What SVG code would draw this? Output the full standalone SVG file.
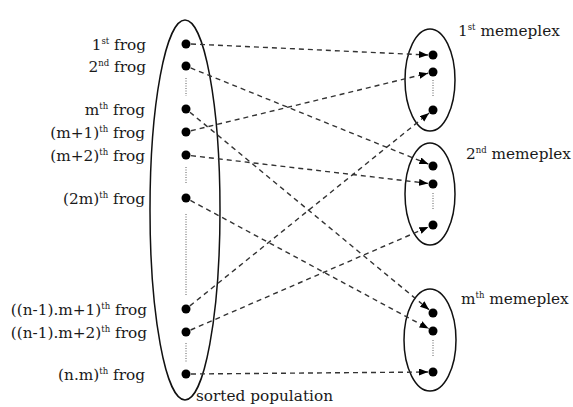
<svg xmlns="http://www.w3.org/2000/svg" width="573" height="407" viewBox="0 0 573 407">
<defs>
<style>
.lbl{font-family:"DejaVu Serif",serif;font-size:15.3px;fill:#1a1a1a}
.sup{font-size:8.5px}
.ell{fill:none;stroke:#111;stroke-width:1.5}
.dot{fill:#000}
.vd{stroke:#333;stroke-width:0.8;stroke-dasharray:1 1.5}
.con{fill:none;stroke:#333;stroke-width:1.4;stroke-dasharray:5 4;marker-end:url(#ah)}
</style>
<marker id="ah" markerUnits="userSpaceOnUse" markerWidth="10" markerHeight="8" refX="9" refY="3.5" orient="auto"><path d="M0,0 L9,3.5 L0,7 z" fill="#000"/></marker>
</defs>
<rect width="573" height="407" fill="#fff"/>
<g id="population">
<ellipse class="ell" cx="185" cy="210" rx="35" ry="190"/>
<circle class="dot" cx="186" cy="44" r="4.5"/>
<circle class="dot" cx="186" cy="66" r="4.5"/>
<circle class="dot" cx="186" cy="109" r="4.5"/>
<circle class="dot" cx="186" cy="132" r="4.5"/>
<circle class="dot" cx="186" cy="155" r="4.5"/>
<circle class="dot" cx="186" cy="198" r="4.5"/>
<circle class="dot" cx="186" cy="309" r="4.5"/>
<circle class="dot" cx="186" cy="332" r="4.5"/>
<circle class="dot" cx="186" cy="374" r="4.5"/>
<line class="vd" x1="186" y1="78" x2="186" y2="96"/>
<line class="vd" x1="186" y1="167" x2="186" y2="184"/>
<line class="vd" x1="186" y1="214" x2="186" y2="296"/>
<line class="vd" x1="186" y1="343" x2="186" y2="363"/>
<text class="lbl" x="146" y="50" text-anchor="end">1<tspan class="sup" dy="-6">st</tspan><tspan dy="6"> frog</tspan></text>
<text class="lbl" x="146" y="72" text-anchor="end">2<tspan class="sup" dy="-6">nd</tspan><tspan dy="6"> frog</tspan></text>
<text class="lbl" x="145" y="115" text-anchor="end">m<tspan class="sup" dy="-6">th</tspan><tspan dy="6"> frog</tspan></text>
<text class="lbl" x="145" y="138" text-anchor="end">(m+1)<tspan class="sup" dy="-6">th</tspan><tspan dy="6"> frog</tspan></text>
<text class="lbl" x="145" y="161" text-anchor="end">(m+2)<tspan class="sup" dy="-6">th</tspan><tspan dy="6"> frog</tspan></text>
<text class="lbl" x="145" y="204" text-anchor="end">(2m)<tspan class="sup" dy="-6">th</tspan><tspan dy="6"> frog</tspan></text>
<text class="lbl" x="147" y="315" text-anchor="end">((n-1).m+1)<tspan class="sup" dy="-6">th</tspan><tspan dy="6"> frog</tspan></text>
<text class="lbl" x="147" y="338" text-anchor="end">((n-1).m+2)<tspan class="sup" dy="-6">th</tspan><tspan dy="6"> frog</tspan></text>
<text class="lbl" x="145" y="380" text-anchor="end">(n.m)<tspan class="sup" dy="-6">th</tspan><tspan dy="6"> frog</tspan></text>
<text class="lbl" x="196" y="401">sorted population</text>
</g>
<g id="memeplex1">
<ellipse class="ell" cx="430" cy="80" rx="25" ry="51"/>
<circle class="dot" cx="433" cy="55" r="4.5"/>
<circle class="dot" cx="433" cy="72" r="4.5"/>
<circle class="dot" cx="433" cy="110" r="4.5"/>
<line class="vd" x1="433" y1="80" x2="433" y2="97"/>
<text class="lbl" x="458" y="36">1<tspan class="sup" dy="-6">st</tspan><tspan dy="6"> memeplex</tspan></text>
</g>
<g id="memeplex2">
<ellipse class="ell" cx="430" cy="194" rx="25" ry="51"/>
<circle class="dot" cx="433" cy="166" r="4.5"/>
<circle class="dot" cx="433" cy="184" r="4.5"/>
<circle class="dot" cx="433" cy="225" r="4.5"/>
<line class="vd" x1="433" y1="193" x2="433" y2="210"/>
<text class="lbl" x="466" y="159">2<tspan class="sup" dy="-6">nd</tspan><tspan dy="6"> memeplex</tspan></text>
</g>
<g id="memeplexm">
<ellipse class="ell" cx="430" cy="340" rx="26" ry="51"/>
<circle class="dot" cx="433" cy="313" r="4.5"/>
<circle class="dot" cx="433" cy="331" r="4.5"/>
<circle class="dot" cx="433" cy="372" r="4.5"/>
<line class="vd" x1="433" y1="340" x2="433" y2="357"/>
<text class="lbl" x="461" y="304">m<tspan class="sup" dy="-6">th</tspan><tspan dy="6"> memeplex</tspan></text>
</g>
<g id="connectors">
<line class="con" x1="191" y1="44" x2="428" y2="55"/>
<line class="con" x1="190.6" y1="67.9" x2="428.4" y2="164.1"/>
<line class="con" x1="189.9" y1="112.2" x2="429.1" y2="309.8"/>
<line class="con" x1="190.9" y1="130.8" x2="428.1" y2="73.2"/>
<line class="con" x1="191" y1="155.6" x2="428" y2="183.4"/>
<line class="con" x1="190.4" y1="200.4" x2="428.6" y2="328.6"/>
<line class="con" x1="189.9" y1="305.9" x2="429.1" y2="113.1"/>
<line class="con" x1="190.6" y1="330" x2="428.4" y2="227"/>
<line class="con" x1="191" y1="374" x2="428" y2="372"/>
</g>
</svg>
